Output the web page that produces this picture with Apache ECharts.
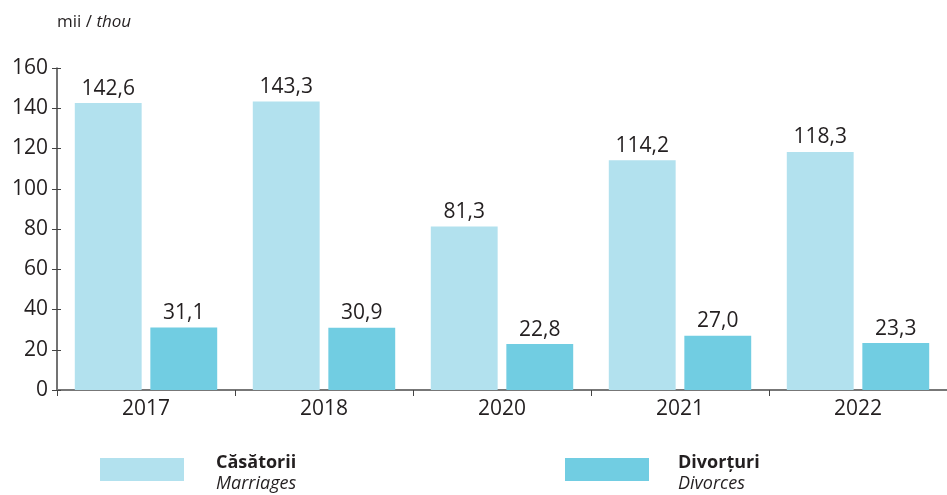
<!DOCTYPE html>
<html>
<head>
<meta charset="utf-8">
<script src="https://cdn.jsdelivr.net/npm/echarts@6/dist/echarts.min.js"></script>
<style>
  html, body { margin: 0; padding: 0; background: #fff; }
  #chart { width: 947px; height: 495px; }
</style>
</head>
<body>
<div id="chart"></div>
<script>
var years = ['2017', '2018', '2020', '2021', '2022'];
var casatorii = [142.6, 143.3, 81.3, 114.2, 118.3];
var divorturi = [31.1, 30.9, 22.8, 27.0, 23.3];
var yTicks = [0, 20, 40, 60, 80, 100, 120, 140, 160];

var FONT = '"Open Sans", "Noto Sans", sans-serif';
var TXT = '#231f20';

var chart = echarts.init(document.getElementById('chart'));

function fmt(p) {
    return p.value.toFixed(1).replace('.', ',');
}

var legendRich = {
    b: { fontSize: 18, fontWeight: 'bold', color: TXT, fontFamily: FONT, lineHeight: 21 },
    i: { fontSize: 18, fontStyle: 'italic', color: TXT, fontFamily: FONT, lineHeight: 21 }
};

var option = {
    animation: false,
    textStyle: { fontFamily: FONT, color: TXT },
    title: {
        left: 52,
        top: 9,
        text: '{a|mii / }{b|thou}',
        textStyle: {
            fontWeight: 'normal',
            rich: {
                a: { fontSize: 17, color: TXT, fontFamily: FONT, fontWeight: 'normal' },
                b: { fontSize: 17, color: TXT, fontFamily: FONT, fontWeight: 'normal', fontStyle: 'italic' }
            }
        }
    },
    grid: { left: 57, right: 0, top: 68, bottom: 105 },
    legend: [
        {
            data: ['Căsătorii'],
            left: 100, top: 454, padding: 0,
            itemWidth: 84, itemHeight: 23,
            icon: 'rect',
            formatter: function () { return '{b|Căsătorii}\n{i|Marriages}'; },
            textStyle: { padding: [8, 0, 0, 27], rich: legendRich }
        },
        {
            data: ['Divorțuri'],
            left: 565, top: 454, padding: 0,
            itemWidth: 84, itemHeight: 23,
            icon: 'rect',
            formatter: function () { return '{b|Divorțuri}\n{i|Divorces}'; },
            textStyle: { padding: [8, 0, 0, 24], rich: legendRich }
        }
    ],
    xAxis: {
        type: 'category',
        data: years,
        axisLine: { lineStyle: { color: '#777', width: 2 } },
        axisTick: { show: true, length: 6, inside: false, lineStyle: { color: '#444' } },
        axisLabel: { fontSize: 21, color: TXT, margin: 9, fontFamily: FONT }
    },
    yAxis: [
        {
            type: 'value',
            min: 0, max: 160, interval: 20,
            axisLine: { show: true, lineStyle: { color: '#444', width: 1.5 } },
            axisTick: { show: true, length: 5, lineStyle: { color: '#444' } },
            axisLabel: {
                fontSize: 21, color: TXT, margin: 9, fontFamily: FONT,
                formatter: function (v) { return yTicks.indexOf(v) >= 0 ? String(v) : ''; }
            },
            splitLine: { show: false }
        },
        {
            type: 'value',
            position: 'left',
            min: 0, max: 160, interval: 20,
            axisLine: { show: false },
            axisTick: { show: true, inside: true, length: 4, lineStyle: { color: '#444' } },
            axisLabel: { show: false },
            splitLine: { show: false }
        }
    ],
    series: [
        {
            name: 'Căsătorii',
            type: 'bar',
            data: casatorii,
            barGap: '13%',
            barCategoryGap: '20%',
            itemStyle: { color: '#b2e1ee' },
            label: { show: true, position: 'top', distance: 4, fontSize: 21, color: TXT, fontFamily: FONT, formatter: fmt }
        },
        {
            name: 'Divorțuri',
            type: 'bar',
            data: divorturi,
            barGap: '13%',
            barCategoryGap: '20%',
            itemStyle: { color: '#71cde2' },
            label: { show: true, position: 'top', distance: 4, fontSize: 21, color: TXT, fontFamily: FONT, formatter: fmt }
        }
    ]
};

chart.setOption(option);
</script>
</body>
</html>
